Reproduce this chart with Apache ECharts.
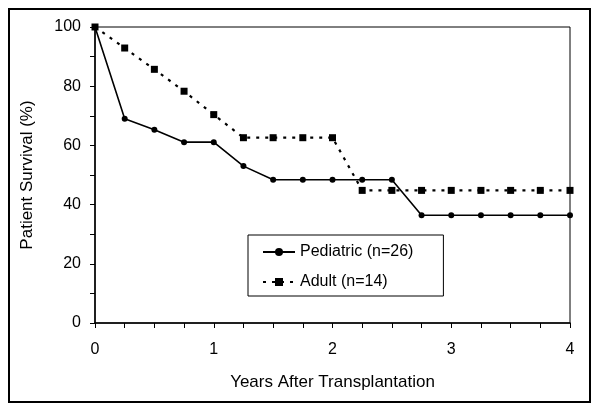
<!DOCTYPE html>
<html><head><meta charset="utf-8">
<script src="https://cdn.jsdelivr.net/npm/echarts@6/dist/echarts.min.js"></script>
<style>html,body{margin:0;padding:0;background:#fff}#c{width:603px;height:411px}</style>
</head><body><div id="c"></div>
<script>
const years = [0,0.25,0.5,0.75,1,1.25,1.5,1.75,2,2.25,2.5,2.75,3,3.25,3.5,3.75,4];
const pediatric = [100,69.0,65.3,61.1,61.1,53.0,48.4,48.4,48.4,48.4,48.4,36.4,36.4,36.4,36.4,36.4,36.4];
const adult = [100,92.9,85.7,78.3,70.4,62.6,62.6,62.6,62.6,44.8,44.8,44.8,44.8,44.8,44.8,44.8,44.8];
const seriesNames = ['Pediatric (n=26)','Adult (n=14)'];
const xLabelTicks = [0,1,2,3,4];
const yLabelTicks = [0,20,40,60,80,100];

const font = 'Liberation Sans, Arial, Helvetica, sans-serif';
const chart = echarts.init(document.getElementById('c'));
chart.setOption({
  animation:false,
  backgroundColor:'#fff',
  textStyle:{fontFamily:font,color:'#000'},
  graphic:[{type:'rect',shape:{x:9,y:9,width:581,height:393},style:{fill:'none',stroke:'#000',lineWidth:2}}],
  grid:{left:95,right:33,top:27,bottom:88,show:true,borderColor:'#000',borderWidth:1},
  legend:{
    orient:'vertical',left:248,top:235,
    backgroundColor:'#fff',borderColor:'#000',borderWidth:1,
    padding:[9,30,6,14],itemGap:14,itemWidth:32,itemHeight:10,
    textStyle:{fontFamily:font,fontSize:16,color:'#000'},
    data:seriesNames
  },
  xAxis:{
    type:'value',min:0,max:4,interval:0.25,
    name:'Years After Transplantation',nameLocation:'middle',nameGap:51,
    nameTextStyle:{fontFamily:font,fontSize:17,color:'#000'},
    axisLine:{lineStyle:{color:'#000',width:1.5}},
    axisTick:{show:true,length:5,lineStyle:{color:'#000'}},
    axisLabel:{margin:19,fontSize:16,color:'#000',fontFamily:font,
      formatter:v=>xLabelTicks.includes(v)?String(v):''},
    splitLine:{show:false}
  },
  yAxis:{
    type:'value',min:0,max:100,interval:10,
    name:'Patient Survival (%)',nameLocation:'middle',nameGap:59,
    nameTextStyle:{fontFamily:font,fontSize:17,color:'#000'},
    axisLine:{show:true,lineStyle:{color:'#000',width:1.5}},
    axisTick:{show:true,length:5,lineStyle:{color:'#000'}},
    axisLabel:{margin:14,fontSize:16,color:'#000',fontFamily:font,
      formatter:v=>yLabelTicks.includes(v)?String(v):''},
    splitLine:{show:false}
  },
  series:[
    {name:seriesNames[0],type:'line',data:years.map((x,i)=>[x,pediatric[i]]),
     symbol:'circle',symbolSize:6,
     lineStyle:{color:'#000',width:1.6,type:'solid'},itemStyle:{color:'#000'},z:3},
    {name:seriesNames[1],type:'line',data:years.map((x,i)=>[x,adult[i]]),
     symbol:'rect',symbolSize:7,
     lineStyle:{color:'#000',width:2.2,type:[3,6]},itemStyle:{color:'#000'},z:2}
  ]
});
</script></body></html>
